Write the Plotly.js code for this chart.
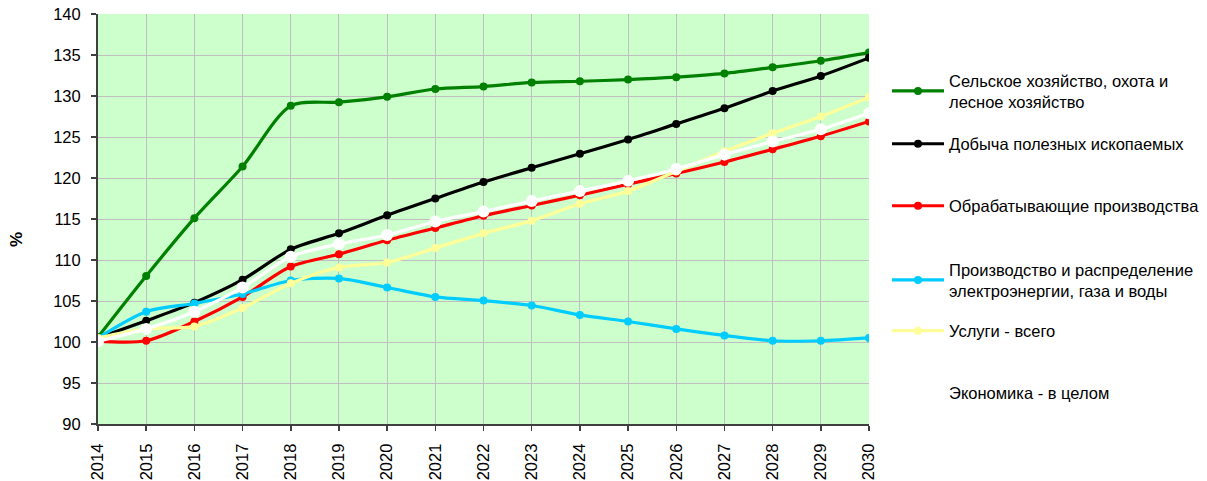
<!DOCTYPE html>
<html>
<head>
<meta charset="utf-8">
<script src="https://cdn.plot.ly/plotly-3.0.1.min.js"></script>
<style>html,body{margin:0;padding:0;background:#fff;}#chart{width:1207px;height:481px;}</style>
</head>
<body>
<div id="chart"></div>
<script>
const years = [2014,2015,2016,2017,2018,2019,2020,2021,2022,2023,2024,2025,2026,2027,2028,2029,2030];
const agriculture = [100.6,108.05,115.1,121.4,128.8,129.25,129.9,130.85,131.15,131.65,131.8,132.0,132.3,132.75,133.5,134.3,135.3];
const mining = [100.5,102.6,104.8,107.6,111.3,113.25,115.45,117.5,119.5,121.25,122.95,124.7,126.6,128.5,130.6,132.45,134.65];
const manufacturing = [100.1,100.15,102.5,105.5,109.2,110.7,112.4,113.9,115.4,116.65,117.9,119.25,120.55,121.95,123.5,125.1,126.9];
const utilities = [100.5,103.7,104.7,105.85,107.5,107.75,106.65,105.5,105.05,104.45,103.3,102.5,101.6,100.8,100.15,100.15,100.5];
const services = [100.5,101.6,101.9,104.15,107.15,109.1,109.7,111.45,113.25,114.8,116.85,118.4,120.8,123.25,125.45,127.5,129.85];
const economy = [100.1,101.6,103.7,106.65,110.4,111.95,113.05,114.7,115.9,117.2,118.4,119.65,121.1,122.85,124.45,125.95,127.9];

const names = [
  "Сельское хозяйство, охота и<br>лесное хозяйство",
  "Добыча полезных ископаемых",
  "Обрабатывающие производства",
  "Производство и распределение<br>электроэнергии, газа и воды",
  "Услуги - всего",
  "Экономика - в целом"
];
const yTitle = "%";
const seriesData = [agriculture, mining, manufacturing, utilities, services, economy];
const colors = ["#008000","#000000","#ff0000","#00ccff","#ffff99","#ffffff"];
const markerSizes = [8,8,8,8,8,12];
const legendIds = ["legend","legend2","legend3","legend4","legend5","legend6"];
const legendY = [0.8108,0.7006,0.5717,0.4179,0.3119,0.1830];

const traces = seriesData.map((vals,i)=>({
  type:"scatter", mode:"lines+markers",
  x: years, y: vals, name: names[i],
  line:{color:colors[i], width:3.2, shape:"spline", smoothing:0.8},
  marker:{color:colors[i], size:markerSizes[i]},
  legend: legendIds[i],
  hoverinfo:"x+y"
}));

const FAM = "Liberation Sans, Arial, sans-serif";
const layout = {
  width:1207, height:481,
  margin:{l:98, r:338, t:14, b:57},
  paper_bgcolor:"#ffffff",
  plot_bgcolor:"#ccffcc",
  font:{family:FAM, size:16, color:"#000"},
  xaxis:{
    range:[2014,2030], dtick:1, tick0:2014, tickangle:-90,
    showgrid:true, gridcolor:"#c0c0c0", gridwidth:1,
    showline:true, linecolor:"#404040", linewidth:2,
    ticks:"outside", ticklen:5, tickcolor:"#404040", tickwidth:1.5,
    tickfont:{family:FAM, size:16.5, color:"#000"},
    ticklabelstandoff:6, automargin:false,
    zeroline:false, fixedrange:true
  },
  yaxis:{
    range:[90,140], dtick:5, tick0:90,
    showgrid:true, gridcolor:"#c0c0c0", gridwidth:1,
    showline:true, linecolor:"#404040", linewidth:2,
    ticks:"outside", ticklen:5, tickcolor:"#404040", tickwidth:1.5,
    tickfont:{family:FAM, size:16.5, color:"#000"},
    ticklabelstandoff:7, automargin:false,
    zeroline:false, fixedrange:true
  },
  annotations:[{
    text:"<b>"+yTitle+"</b>", xref:"paper", yref:"paper", x:0, y:0.449,
    xanchor:"center", yanchor:"middle", xshift:-81, textangle:-90, showarrow:false,
    font:{family:FAM, size:17, color:"#000"}
  }],
  showlegend:true
};
const legFont = {family:FAM, size:16.5, color:"#000"};
legendIds.forEach((id,i)=>{
  layout[id] = {xref:"container", yref:"container", x:0.7349, xanchor:"left", y:legendY[i], yanchor:"middle",
    bgcolor:"rgba(0,0,0,0)", borderwidth:0, font:legFont, itemwidth:52};
});

Plotly.newPlot("chart", traces, layout, {displayModeBar:false, staticPlot:true});
</script>
</body>
</html>
